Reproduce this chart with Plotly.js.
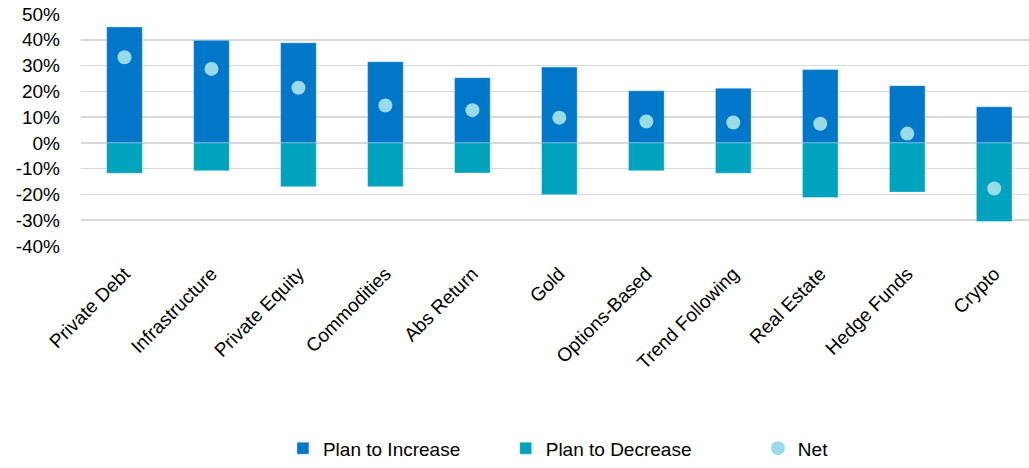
<!DOCTYPE html>
<html>
<head>
<meta charset="utf-8">
<script src="https://cdn.plot.ly/plotly-3.0.1.min.js"></script>
<style>
html,body{margin:0;padding:0;background:#fff;}
#chart{width:1029px;height:468px;}
</style>
</head>
<body>
<div id="chart"></div>
<script>
const categories = ["Private Debt","Infrastructure","Private Equity","Commodities","Abs Return","Gold","Options-Based","Trend Following","Real Estate","Hedge Funds","Crypto"];
const planToIncrease = [45, 39.8, 38.8, 31.5, 25.3, 29.4, 20.2, 21.2, 28.5, 22.2, 14];
const planToDecrease = [-11.8, -10.8, -17, -17, -11.7, -20.1, -10.8, -11.8, -21.2, -19.1, -30.5];
const net = [33.2, 28.7, 21.4, 14.5, 12.7, 9.8, 8.3, 7.9, 7.4, 3.6, -17.7];
const yTicks = [-40, -30, -20, -10, 0, 10, 20, 30, 40, 50];
const yTickLabels = ["-40%", "-30%", "-20%", "-10%", "0%", "10%", "20%", "30%", "40%", "50%"];

const FONT = '"Liberation Sans", Arial, sans-serif';
const FS = 19;
const traces = [
  {type:'bar', name:'Plan to Increase', x:categories, y:planToIncrease, width:0.41,
   marker:{color:'#0077C8', line:{color:'rgba(255,255,255,0.35)', width:1}}, legend:'legend', hoverinfo:'skip'},
  {type:'bar', name:'Plan to Decrease', x:categories, y:planToDecrease, width:0.41,
   marker:{color:'#00A3BE', line:{color:'rgba(255,255,255,0.35)', width:1}}, legend:'legend2', hoverinfo:'skip'},
  {type:'scatter', mode:'markers', name:'Net', x:categories, y:net,
   marker:{color:'#9ADBE8', size:14}, legend:'legend3', hoverinfo:'skip'}
];

const legendBase = {orientation:'h', yanchor:'middle', xanchor:'left', y:-0.872,
  font:{family:FONT, size:FS, color:'#000'}, bgcolor:'rgba(0,0,0,0)', itemwidth:30};

const layout = {
  width:1029, height:468,
  margin:{l:81, r:0, t:14, b:220},
  paper_bgcolor:'#fff', plot_bgcolor:'#fff',
  barmode:'relative',
  showlegend:true,
  font:{family:FONT, size:FS, color:'#000'},
  xaxis:{type:'category', range:[-0.5, 10.4], tickangle:-45, showgrid:false, zeroline:false,
    showline:false, ticks:'', ticklabelstandoff:12, tickfont:{family:FONT, size:FS, color:'#000'}},
  yaxis:{range:[-40, 50], tickvals:yTicks, ticktext:yTickLabels, showgrid:true, gridcolor:'#D9D9D9', gridwidth:1.5,
    zeroline:true, zerolinecolor:'#D9D9D9', zerolinewidth:1.5, showline:false, ticks:'',
    ticklabelstandoff:20, tickfont:{family:FONT, size:FS, color:'#000'}},
  legend:Object.assign({}, legendBase, {x:0.213}),
  legend2:Object.assign({}, legendBase, {x:0.448}),
  legend3:Object.assign({}, legendBase, {x:0.714})
};

Plotly.newPlot('chart', traces, layout, {displayModeBar:false, staticPlot:true});
</script>
</body>
</html>
